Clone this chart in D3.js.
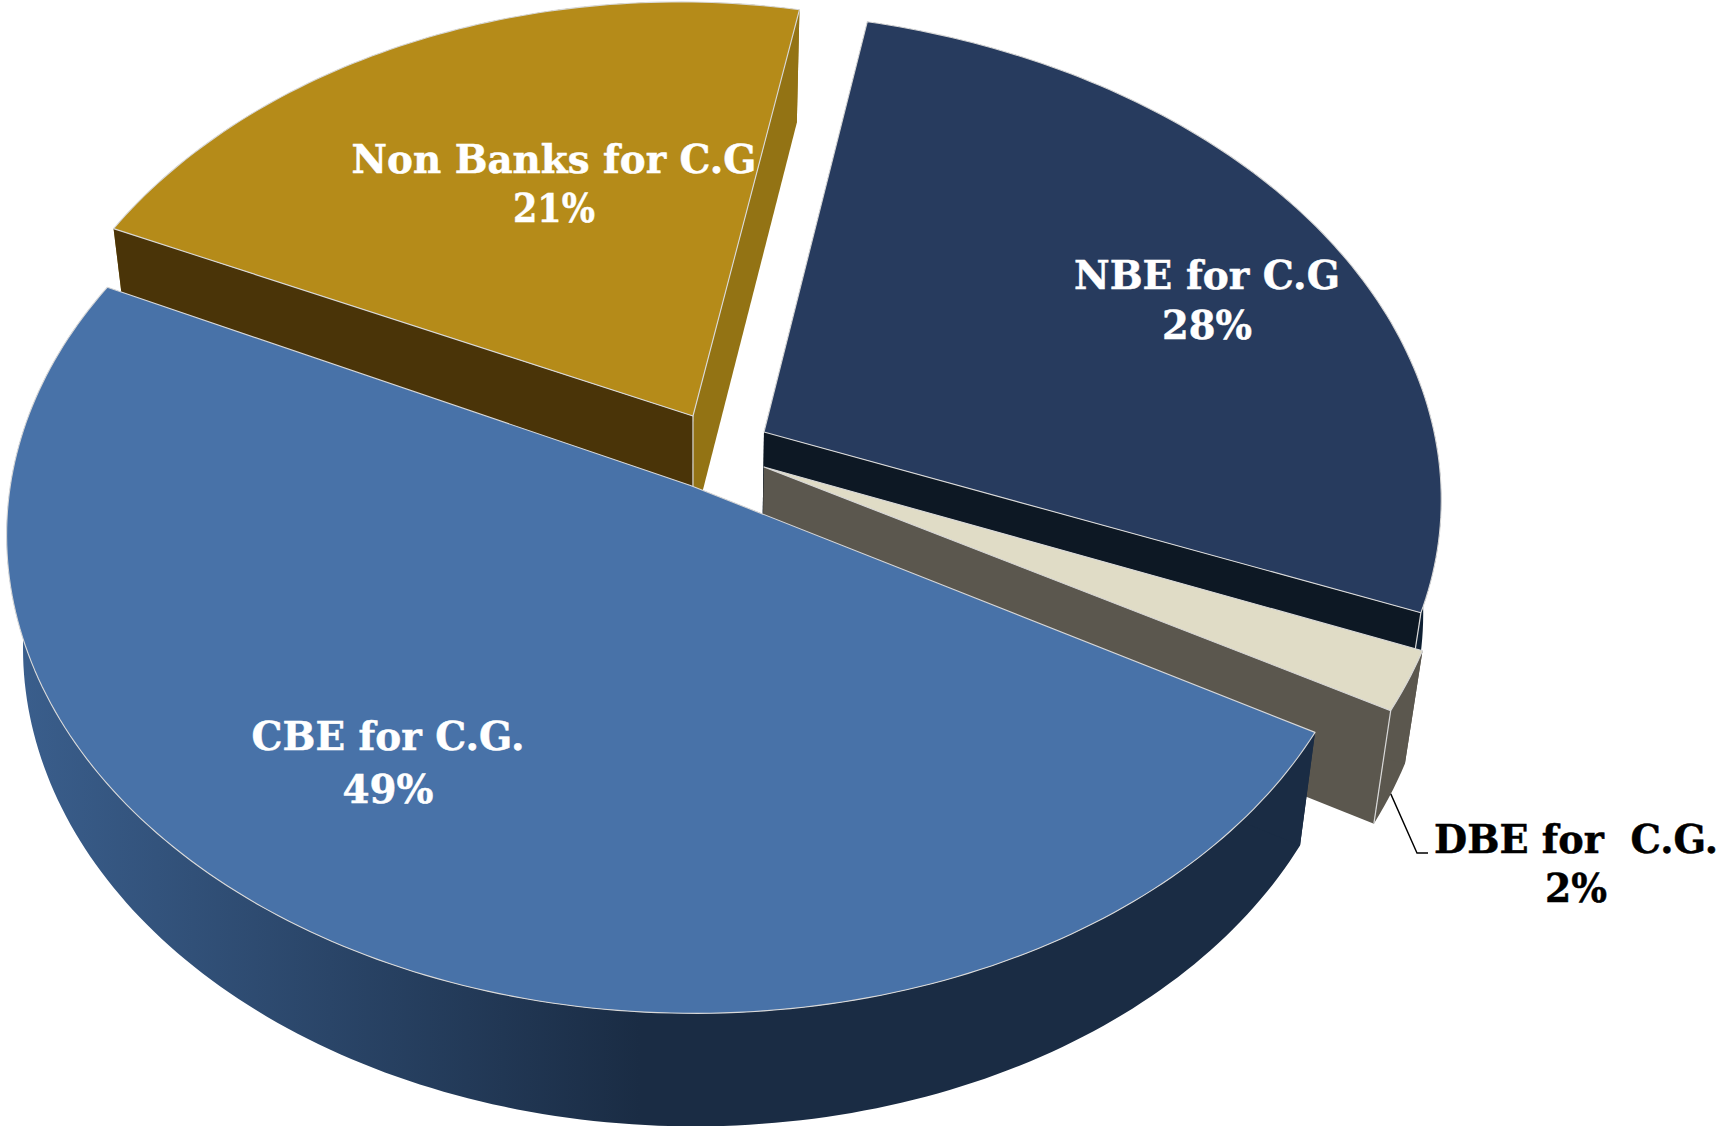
<!DOCTYPE html>
<html><head><meta charset="utf-8">
<style>html,body{margin:0;padding:0;background:#fff}svg{display:block}</style>
<script src="https://cdn.jsdelivr.net/npm/d3@7"></script>
</head><body><svg id="c" width="1724" height="1126"></svg>
<script>
const categories = ["CBE for C.G.", "Non Banks for C.G", "NBE for C.G", "DBE for  C.G."];
const values = [49, 21, 28, 2];
const percentLabels = ["49%", "21%", "28%", "2%"];

const W = 1724, H = 1126;
const rad = Math.PI / 180;
// projection of the tilted disc
const P = {a: 697, d: -0.111, f: 460, depth: 113, vx: 690, t: 0.024};
const geo = [
  {ax: 690.5, ay: 485.5, sx: 0.974, sy: 1.02, b: -7, c: 0, e: 7.7, top: "#4872a8", side: "url(#cbeSide)", wall: "#1a2c44",
   lx: 388, ly: [750, 803], lw: [273, 91], tc: "#fff"},
  {ax: 693, ay: 416, sx: 0.935, sy: 1.0, b: 5, c: 0.03, e: -6, top: "#b58b19", side: "#937314", wall: "#4a3408", endWall: "#937314",
   lx: 554, ly: [173, 222], lw: [405, 82], tc: "#fff"},
  {ax: 764, ay: 432, sx: 0.992, sy: 1.015, b: 16, c: 0.03, e: 6, top: "#273b5e", side: "#0f2033", wall: "#0d1824",
   lx: 1207, ly: [289, 339], lw: [266, 90], tc: "#fff"},
  {ax: 764, ay: 467, sx: 1.015, sy: 1.066, b: -20, c: 0.03, e: 0, top: "#e0dcc6", side: "#5b574e", wall: "#5b574e",
   lx: 1576, ly: [853, 902], lw: [284, 62], tc: "#000"}
];

const pie = d3.pie().sort(null).startAngle(118.9 * rad).endAngle((118.9 + 360) * rad);
const arcs = pie(values);

function rim(g, th) {
  const u = Math.sin(th), v = -Math.cos(th), w = 1 + g.c * u + P.d * v;
  return [g.ax + g.sx * (P.a * u + g.b * v) / w, g.ay + g.sy * (P.f * v + g.e * u) / w];
}
const lower = p => [p[0] + (P.vx - p[0]) * P.t, p[1] + P.depth];
const samples = (s, e) => d3.range(s, e, 1 * rad).concat([e]);
const line = d3.line();

const svg = d3.select("#c");
const grad = svg.append("defs").append("linearGradient").attr("id", "cbeSide")
  .attr("gradientUnits", "userSpaceOnUse").attr("x1", 20).attr("x2", 640).attr("y1", 0).attr("y2", 0);
grad.append("stop").attr("offset", 0).attr("stop-color", "#3a5e8c");
grad.append("stop").attr("offset", 1).attr("stop-color", "#1a2c44");

const edge = "#d9d9d9";
// painter's order: far slices first, CBE last
[1, 2, 3, 0].forEach(i => {
  const g = geo[i], d = arcs[i];
  const G = svg.append("g").attr("class", "slice");
  const A = [g.ax, g.ay];
  const pts = samples(d.startAngle, d.endAngle).map(t => rim(g, t));
  const S = pts[0], E = pts[pts.length - 1];
  // outer wall
  G.append("path").attr("d", line(pts.concat(pts.map(lower).reverse())) + "Z").attr("fill", g.side);
  // radial walls
  G.append("path").attr("d", line([A, S, lower(S), lower(A)]) + "Z").attr("fill", g.wall);
  G.append("path").attr("d", line([A, E, lower(E), lower(A)]) + "Z").attr("fill", g.endWall || g.wall);
  // vertical corner highlights
  const vertical = i === 1 ? A : (i === 0 ? null : E);
  if (vertical) G.append("path").attr("d", line([vertical, lower(vertical)]))
    .attr("stroke", edge).attr("stroke-width", 1.2).attr("fill", "none");
  // top face
  G.append("path").attr("d", line([A].concat(pts)) + "Z").attr("fill", g.top)
    .attr("stroke", edge).attr("stroke-width", 1.1).attr("stroke-linejoin", "round");
});

// leader line of the small slice
{
  const g = geo[3], d = arcs[3];
  const p = lower(rim(g, (d.startAngle + d.endAngle) / 2));
  const ex = g.lx - g.lw[0] / 2 - 17, ey = g.ly[0];
  svg.append("path").attr("d", line([p, [ex, ey], [ex + 11, ey]]))
    .attr("fill", "none").attr("stroke", "#000").attr("stroke-width", 1.4);
}

// labels
geo.forEach((g, i) => {
  [categories[i], percentLabels[i]].forEach((t, k) => {
    const el = svg.append("text").attr("text-anchor", "middle")
      .attr("font-family", "'DejaVu Serif',serif").attr("font-weight", "bold")
      .attr("font-size", 40).attr("fill", g.tc)
      .attr("stroke", g.tc).attr("stroke-width", 0.5)
      .style("white-space", "pre").text(t);
    const natural = el.node().getComputedTextLength();
    el.attr("transform", `translate(${g.lx},${g.ly[k]}) scale(${g.lw[k] / natural},1)`);
  });
});
</script></body></html>
